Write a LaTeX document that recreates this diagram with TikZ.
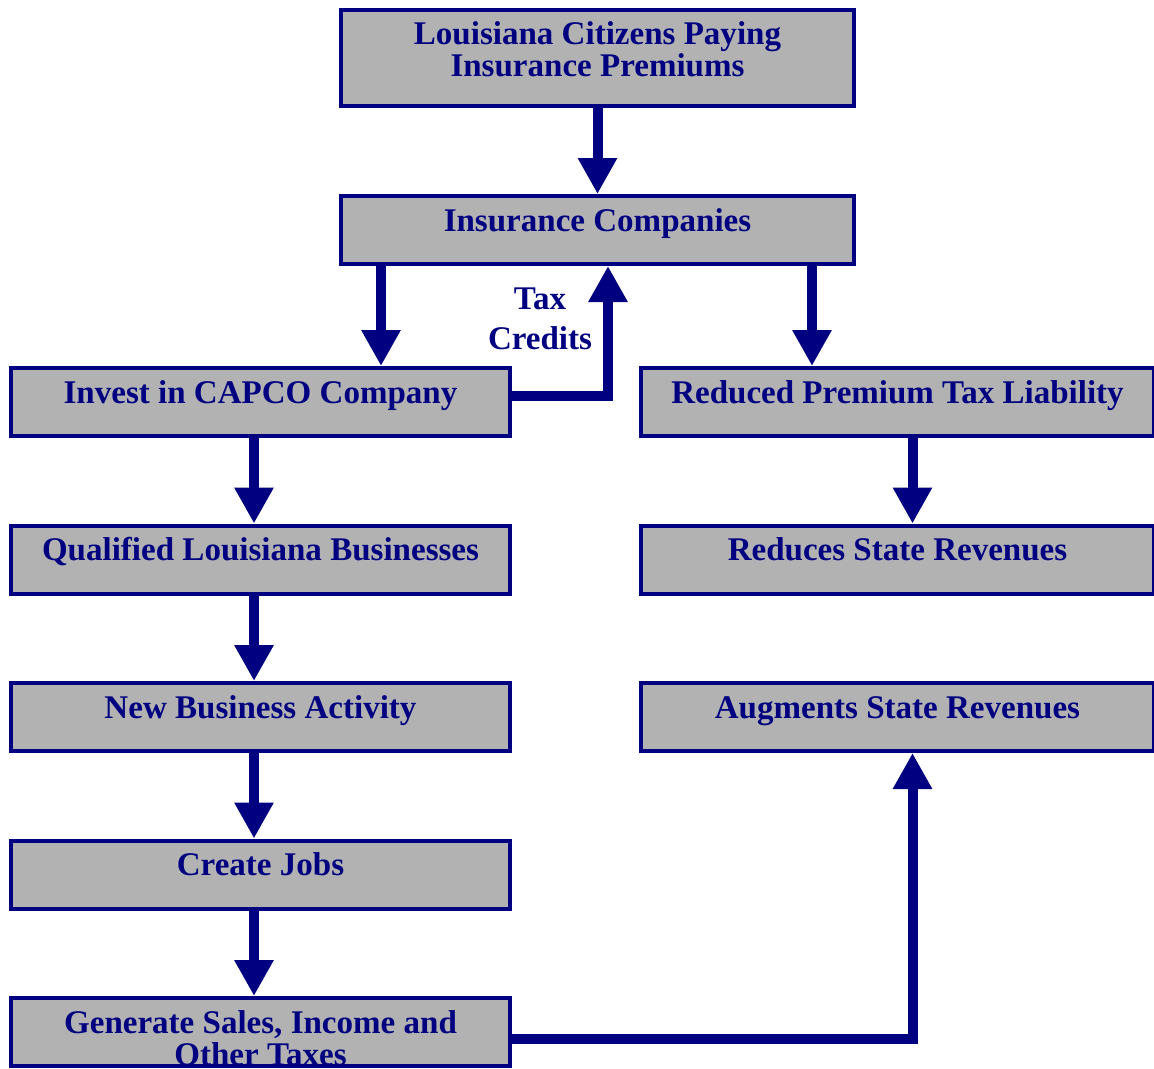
\documentclass[tikz,border=0pt]{standalone}
\usepackage{fontspec}
\setmainfont{Liberation Serif}
\usetikzlibrary{positioning, arrows.meta}
\definecolor{capnavy}{RGB}{0,0,128}
\definecolor{capgray}{RGB}{178,178,178}

\begin{document}
\begin{tikzpicture}[
  box/.style={draw=capnavy, fill=capgray, line width=0.08cm, rectangle, minimum width=9.98cm, minimum height=1.36cm, inner sep=2pt, align=center, text=capnavy, font=\fontsize{18.8pt}{18.2pt}\selectfont\bfseries},
  onerow/.style={text height=0.46cm, text depth=0.42cm},
  flow/.style={draw=capnavy, line width=0.2cm, -{Triangle[width=0.74cm, length=0.72cm]}}
]
\useasboundingbox (0,0) rectangle (23.08,-21.38);

% Top Row
\node[box, minimum width=10.26cm, minimum height=1.92cm, text depth=0.34cm] (citizens) at (11.95,-1.16) {Louisiana Citizens Paying\\Insurance Premiums};
\node[box, onerow, minimum width=10.26cm, below=1.72cm of citizens] (insurers) {Insurance Companies};

% Left Column
\node[box, onerow] (capco) at (5.21,-8.04) {Invest in CAPCO Company};
\node[box, onerow, below=1.71cm of capco] (qualified) {Qualified Louisiana Businesses};
\node[box, onerow, below=1.71cm of qualified] (newbiz) {New Business Activity};
\node[box, onerow, below=1.71cm of newbiz] (jobs) {Create Jobs};
\node[box, inner ysep=0pt, text height=1.34cm, text depth=0cm, below=1.71cm of jobs] (taxes) {Generate Sales, Income and\\Other Taxes};

% Right Column
\node[box, onerow, minimum width=10.26cm] (reduced) at (17.95,-8.04) {Reduced Premium Tax Liability};
\node[box, onerow, minimum width=10.26cm, below=1.71cm of reduced] (reduces) {Reduces State Revenues};
\node[box, onerow, minimum width=10.26cm, below=1.71cm of reduces] (augments) {Augments State Revenues};

% Label
\node[text=capnavy, align=center, inner sep=0pt, font=\fontsize{18.8pt}{22.7pt}\selectfont\bfseries] (credits) at (10.8,-6.37) {Tax\\Credits};

% Arrows
\coordinate (leftdrop) at ([xshift=0.84cm]insurers.south west);
\coordinate (rightdrop) at ([xshift=-0.88cm]insurers.south east);
\coordinate (creditup) at ([xshift=0.21cm]insurers.south);

\draw[flow] (citizens.south) -- (insurers.north);
\draw[flow] (leftdrop) -- (leftdrop |- capco.north);
\draw[flow] (rightdrop) -- (rightdrop |- reduced.north);
\draw[flow] ([yshift=0.12cm]capco.east) -| (creditup);

\draw[flow] ([xshift=-0.13cm]capco.south) -- ([xshift=-0.13cm]qualified.north);
\draw[flow] ([xshift=-0.13cm]qualified.south) -- ([xshift=-0.13cm]newbiz.north);
\draw[flow] ([xshift=-0.13cm]newbiz.south) -- ([xshift=-0.13cm]jobs.north);
\draw[flow] ([xshift=-0.13cm]jobs.south) -- ([xshift=-0.13cm]taxes.north);

\draw[flow] ([xshift=0.3cm]reduced.south) -- ([xshift=0.3cm]reduces.north);
\draw[flow] ([yshift=-0.14cm]taxes.east) -| ([xshift=0.3cm]augments.south);

\end{tikzpicture}
\end{document}
